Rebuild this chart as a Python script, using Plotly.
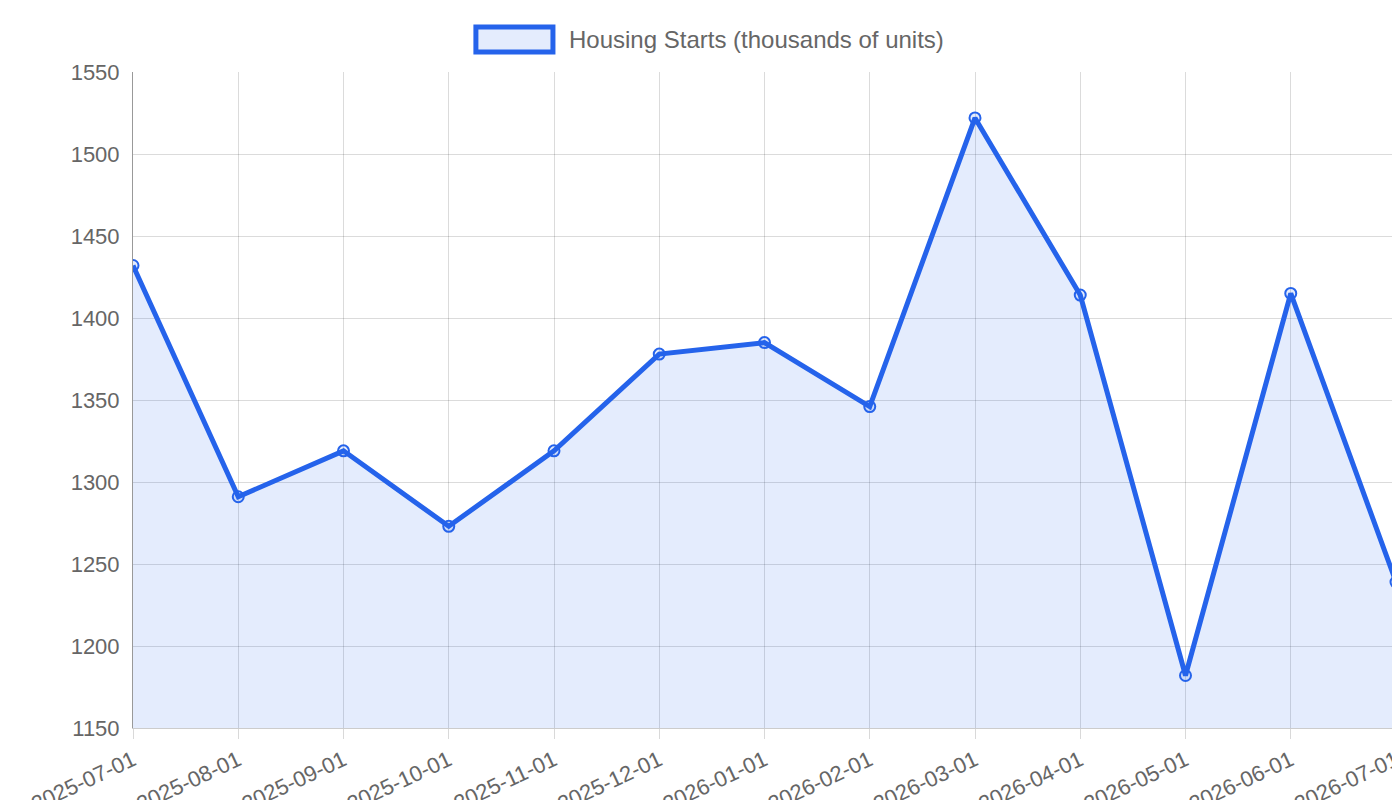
import plotly.graph_objects as go

dates = ['2025-07-01', '2025-08-01', '2025-09-01', '2025-10-01', '2025-11-01',
         '2025-12-01', '2026-01-01', '2026-02-01', '2026-03-01', '2026-04-01',
         '2026-05-01', '2026-06-01', '2026-07-01']
starts = [1432, 1291, 1319, 1273, 1319, 1378, 1385, 1346, 1522, 1414, 1182, 1415, 1239]
series_name = 'Housing Starts (thousands of units)'

fig = go.Figure()
fig.add_trace(go.Scatter(
    x=dates, y=starts, name=series_name, showlegend=False,
    mode='lines+markers', fill='tozeroy', fillcolor='rgba(37,99,235,0.12)',
    line=dict(color='#2563eb', width=5),
    marker=dict(size=11, color='rgba(37,99,235,0.12)', line=dict(color='#2563eb', width=2)),
))

# legend drawn by hand (Chart.js style box)
fig.add_shape(type='rect', xref='paper', yref='paper',
              x0=0.2715, x1=0.3325, y0=1.0305, y1=1.0686,
              line=dict(color='#2563eb', width=5), fillcolor='rgba(37,99,235,0.12)')
fig.add_annotation(text=series_name, xref='paper', yref='paper', x=0.3436, y=1.0488,
                   xanchor='left', yanchor='middle', showarrow=False,
                   font=dict(size=24, color='#666'))

fig.update_layout(
    width=1400, height=800,
    plot_bgcolor='white', paper_bgcolor='white',
    font=dict(family='Liberation Sans, Arial, sans-serif', color='#666', size=22),
    margin=dict(l=125, r=12, t=64, b=80, autoexpand=False),
)
fig.update_xaxes(type='category', range=[0, len(dates) - 1], tickangle=-25, automargin=False,
                 showgrid=True, gridcolor='rgba(0,0,0,0.14)',
                 ticks='outside', ticklen=10, tickcolor='rgba(0,0,0,0.15)',
                 showline=True, linecolor='rgba(0,0,0,0.2)', zeroline=False)
fig.update_yaxes(range=[1150, 1550], dtick=50, automargin=False,
                 showgrid=True, gridcolor='rgba(0,0,0,0.14)',
                 showline=True, linecolor='rgba(0,0,0,0.4)', zeroline=False,
                 ticks='', ticklabelstandoff=8)

fig.write_html('out.html')
